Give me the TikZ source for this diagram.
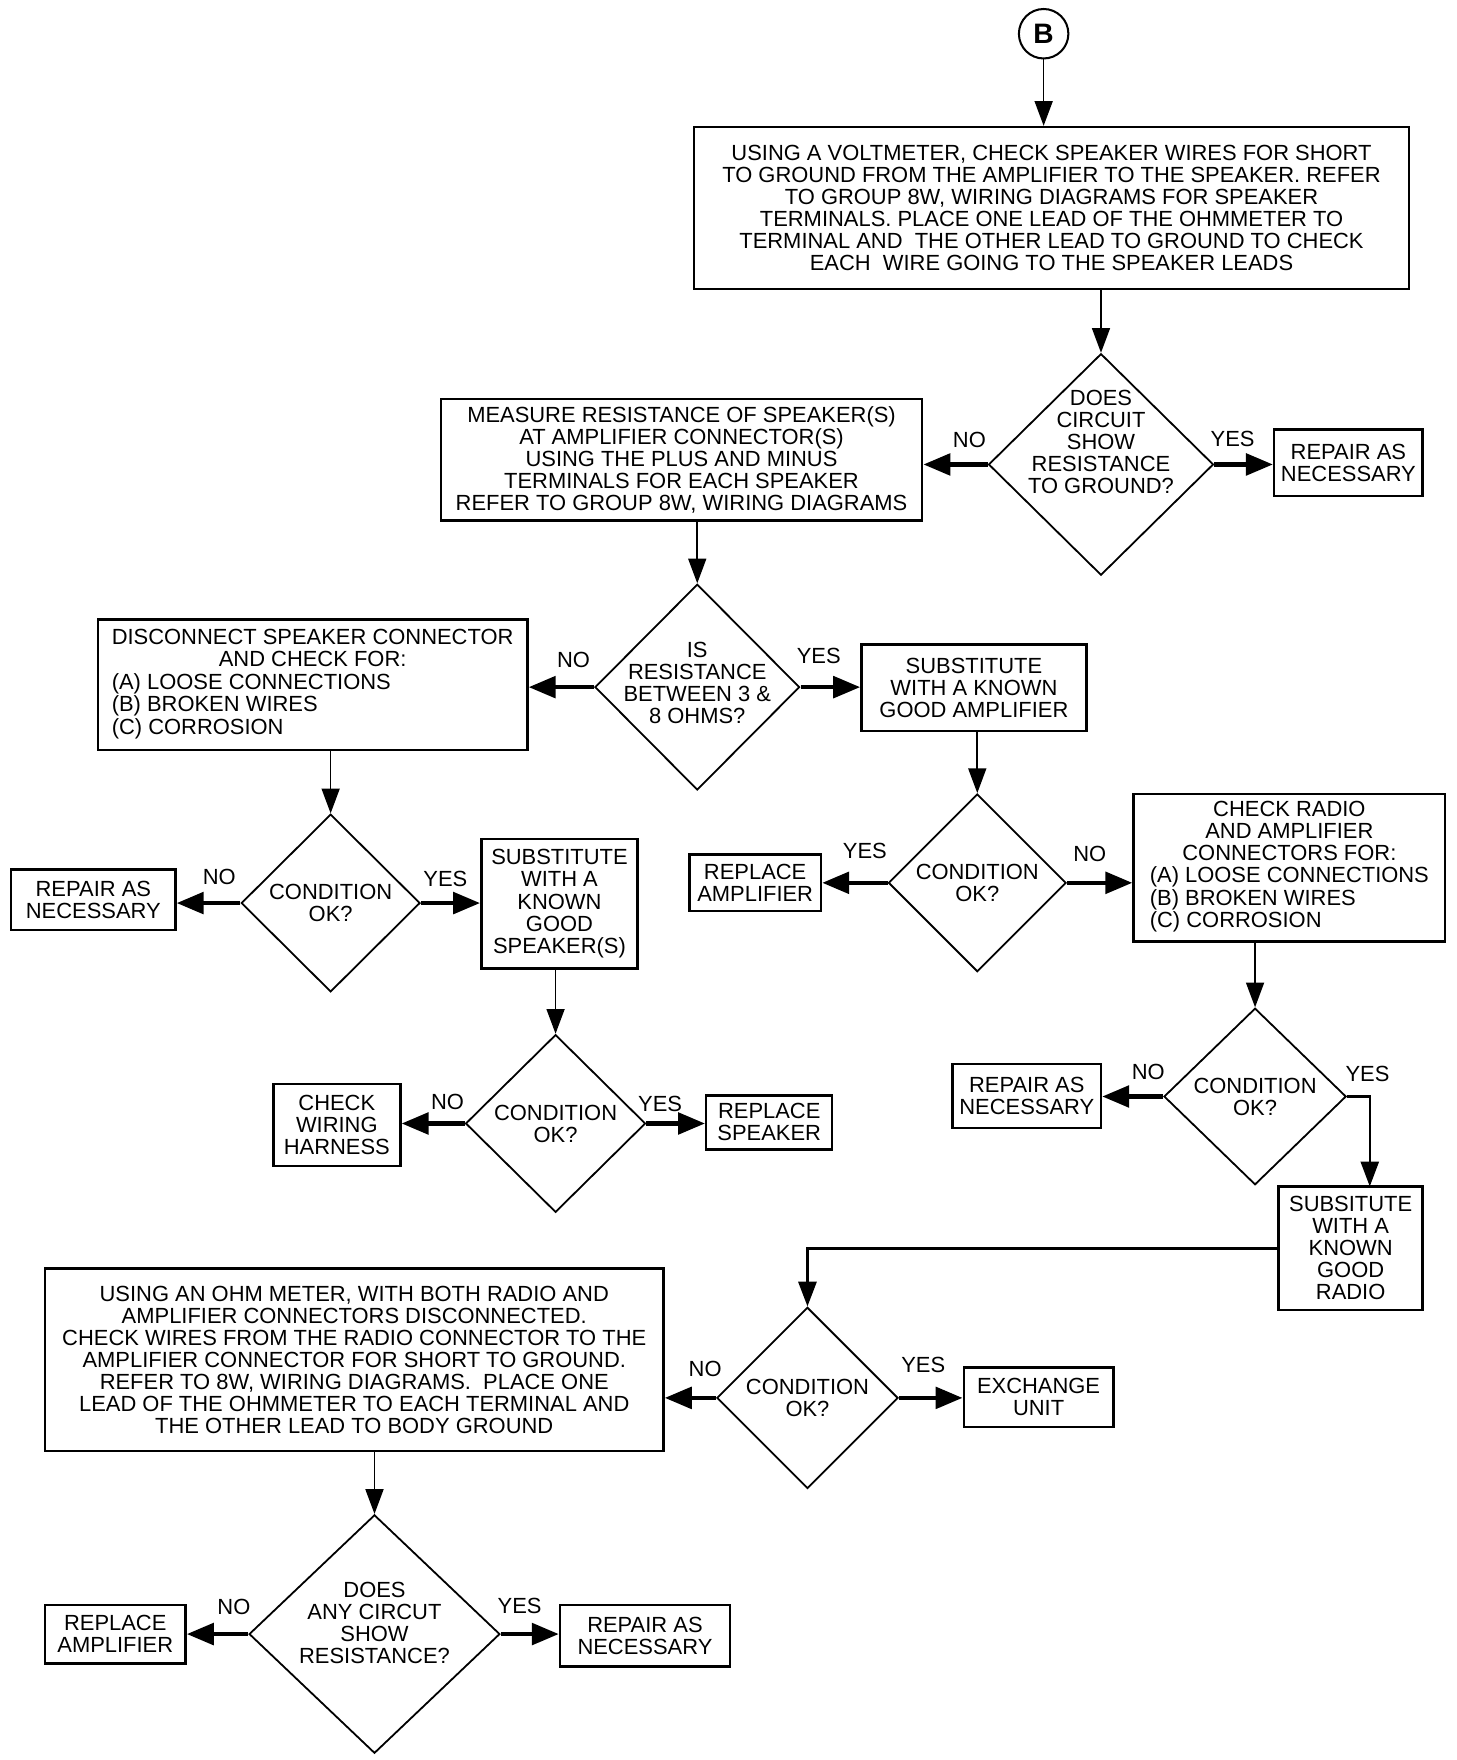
\documentclass[tikz,border=0pt]{standalone}
\usepackage{fontspec}
\setmainfont{Liberation Sans}
\usetikzlibrary{shapes.geometric,arrows.meta}

\newcommand{\chartfont}{\fontsize{19.5}{19.6}\selectfont}

\begin{document}
\begin{tikzpicture}[x=1pt, y=-1pt,
  every node/.style={font=\chartfont},
  box/.style={draw, line width=2.2pt, align=center, inner sep=2pt},
  dia/.style={draw, diamond, line width=1.6pt, inner sep=0pt},
  qtxt/.style={align=center},
  lbl/.style={inner sep=0pt},
  varr/.style={line width=1.5pt, -{Triangle[length=22pt,width=16pt]}},
  harr/.style={line width=4pt, -{Triangle[length=24pt,width=19pt]}}]
  \useasboundingbox (0,0) rectangle (1295,1565);

  \node[draw, circle, line width=1.8pt, minimum size=44pt, inner sep=0pt,
        font=\fontsize{25}{25}\selectfont\bfseries] (B) at (928,30) {B};

  \node[box, minimum width=636pt, minimum height=144pt] (volt) at (935,185)
    {USING A VOLTMETER, CHECK SPEAKER WIRES FOR SHORT\\
     TO GROUND FROM THE AMPLIFIER TO THE SPEAKER. REFER\\
     TO GROUP 8W, WIRING DIAGRAMS FOR SPEAKER\\
     TERMINALS. PLACE ONE LEAD OF THE OHMMETER TO\\
     TERMINAL AND\ \ THE OTHER LEAD TO GROUND TO CHECK\\
     EACH\ \ WIRE GOING TO THE SPEAKER LEADS};
  \node[dia, minimum width=200pt, minimum height=197pt,
        label={[qtxt, yshift=20pt]center:{DOES\\CIRCUIT\\SHOW\\RESISTANCE\\TO GROUND?}}]
        (d1) at (979,413) {};
  \node[box, minimum width=132pt, minimum height=59pt] (rep1) at (1199,411.5)
    {REPAIR AS\\NECESSARY};
  \node[box, minimum width=428pt, minimum height=108pt] (meas) at (606,409)
    {MEASURE RESISTANCE OF SPEAKER(S)\\
     AT AMPLIFIER CONNECTOR(S)\\
     USING THE PLUS AND MINUS\\
     TERMINALS FOR EACH SPEAKER\\
     REFER TO GROUP 8W, WIRING DIAGRAMS};

  \node[dia, minimum width=182pt, minimum height=183pt,
        label={[qtxt, yshift=4pt]center:{IS\\RESISTANCE\\BETWEEN 3 \&\\8 OHMS?}}]
        (d2) at (620,611) {};
  \node[box, minimum width=382pt, minimum height=116pt] (disc) at (278,609)
    {\begin{tabular}{@{}l@{}}
     \multicolumn{1}{@{}c@{}}{DISCONNECT SPEAKER CONNECTOR}\\
     \multicolumn{1}{@{}c@{}}{AND CHECK FOR:}\\
     (A) LOOSE CONNECTIONS\\
     (B) BROKEN WIRES\\
     (C) CORROSION
     \end{tabular}};
  \node[box, minimum width=200pt, minimum height=77pt] (subamp) at (866,611.5)
    {SUBSTITUTE\\WITH A KNOWN\\GOOD AMPLIFIER};

  \node[dia, minimum width=159pt, minimum height=158pt,
        label={[qtxt]center:{CONDITION\\OK?}}] (d3) at (294,803) {};
  \node[box, minimum width=146pt, minimum height=54pt] (rep2) at (83,800)
    {REPAIR AS\\NECESSARY};
  \node[box, minimum width=139pt, minimum height=115pt] (subspk) at (497.5,803.5)
    {SUBSTITUTE\\WITH A\\KNOWN\\GOOD\\SPEAKER(S)};

  \node[dia, minimum width=158pt, minimum height=158pt,
        label={[qtxt]center:{CONDITION\\OK?}}] (d4) at (869,785) {};
  \node[box, minimum width=117pt, minimum height=50pt] (repamp1) at (671.5,785)
    {REPLACE\\AMPLIFIER};
  \node[box, minimum width=277pt, minimum height=131pt] (chkradio) at (1146.5,771.5)
    {\begin{tabular}{@{}l@{}}
     \multicolumn{1}{@{}c@{}}{CHECK RADIO}\\
     \multicolumn{1}{@{}c@{}}{AND AMPLIFIER}\\
     \multicolumn{1}{@{}c@{}}{CONNECTORS FOR:}\\
     (A) LOOSE CONNECTIONS\\
     (B) BROKEN WIRES\\
     (C) CORROSION
     \end{tabular}};

  \node[dia, minimum width=160pt, minimum height=158pt,
        label={[qtxt]center:{CONDITION\\OK?}}] (d5) at (494,999) {};
  \node[box, minimum width=113pt, minimum height=73pt] (harness) at (299.5,1000.5)
    {CHECK\\WIRING\\HARNESS};
  \node[box, minimum width=112pt, minimum height=48pt] (repspk) at (684,998)
    {REPLACE\\SPEAKER};

  \node[dia, minimum width=162pt, minimum height=157pt,
        label={[qtxt]center:{CONDITION\\OK?}}] (d6) at (1116,975) {};
  \node[box, minimum width=132pt, minimum height=57pt] (rep3) at (913,974.5)
    {REPAIR AS\\NECESSARY};
  \node[box, minimum width=128pt, minimum height=110pt] (subradio) at (1201,1110)
    {SUBSITUTE\\WITH A\\KNOWN\\GOOD\\RADIO};
  \coordinate (k1) at (1218,1055);

  \node[dia, minimum width=161pt, minimum height=161pt,
        label={[qtxt]center:{CONDITION\\OK?}}] (d7) at (718,1243) {};
  \node[box, minimum width=133pt, minimum height=53pt] (exch) at (923.5,1242.5)
    {EXCHANGE\\UNIT};
  \node[box, minimum width=550pt, minimum height=162pt] (ohm) at (315,1209)
    {USING AN OHM METER, WITH BOTH RADIO AND\\
     AMPLIFIER CONNECTORS DISCONNECTED.\\
     CHECK WIRES FROM THE RADIO CONNECTOR TO THE\\
     AMPLIFIER CONNECTOR FOR SHORT TO GROUND.\\
     REFER TO 8W, WIRING DIAGRAMS.\ \ PLACE ONE\\
     LEAD OF THE OHMMETER TO EACH TERMINAL AND\\
     THE OTHER LEAD TO BODY GROUND};

  \node[dia, minimum width=223pt, minimum height=212pt,
        label={[qtxt, yshift=10pt]center:{DOES\\ANY CIRCUT\\SHOW\\RESISTANCE?}}]
        (d8) at (333,1453) {};
  \node[box, minimum width=125pt, minimum height=52pt] (repamp2) at (102.5,1453)
    {REPLACE\\AMPLIFIER};
  \node[box, minimum width=151pt, minimum height=55pt] (rep4) at (573.5,1454.5)
    {REPAIR AS\\NECESSARY};

  \node[lbl] (no1) at (862,391) {NO};
  \node[lbl] (yes1) at (1096,390) {YES};
  \node[lbl] (no2) at (510,587) {NO};
  \node[lbl] (yes2) at (728,583) {YES};
  \node[lbl] (no3) at (195,780) {NO};
  \node[lbl] (yes3) at (396,782) {YES};
  \node[lbl] (yes4) at (769,757) {YES};
  \node[lbl] (no4) at (969,759) {NO};
  \node[lbl] (no5) at (398,980) {NO};
  \node[lbl] (yes5) at (587,982) {YES};
  \node[lbl] (no6) at (1021,953) {NO};
  \node[lbl] (yes6) at (1216,955) {YES};
  \node[lbl] (no7) at (627,1217) {NO};
  \node[lbl] (yes7) at (821,1214) {YES};
  \node[lbl] (no8) at (208,1429) {NO};
  \node[lbl] (yes8) at (462,1428) {YES};

  \draw[varr] (B.south) -- (B.south |- volt.north);
  \draw[varr] (volt.south -| d1) -- (d1.north);
  \draw[harr] (d1.west) -- (d1.west -| meas.east);
  \draw[harr] (d1.east) -- (d1.east -| rep1.west);
  \draw[varr] (meas.south -| d2) -- (d2.north);
  \draw[harr] (d2.west) -- (d2.west -| disc.east);
  \draw[harr] (d2.east) -- (d2.east -| subamp.west);
  \draw[varr] (disc.south -| d3) -- (d3.north);
  \draw[harr] (d3.west) -- (d3.west -| rep2.east);
  \draw[harr] (d3.east) -- (d3.east -| subspk.west);
  \draw[varr] (subspk.south -| d5) -- (d5.north);
  \draw[harr] (d5.west) -- (d5.west -| harness.east);
  \draw[harr] (d5.east) -- (d5.east -| repspk.west);
  \draw[varr] (subamp.south -| d4) -- (d4.north);
  \draw[harr] (d4.west) -- (d4.west -| repamp1.east);
  \draw[harr] (d4.east) -- (d4.east -| chkradio.west);
  \draw[varr] (chkradio.south -| d6) -- (d6.north);
  \draw[harr] (d6.west) -- (d6.west -| rep3.east);
  \draw[varr, line width=2pt] (d6.east) -| (k1);
  \draw[varr, line width=2.6pt] (subradio.west) -| (d7.north);
  \draw[harr] (d7.west) -- (d7.west -| ohm.east);
  \draw[harr] (d7.east) -- (d7.east -| exch.west);
  \draw[varr] (ohm.south -| d8) -- (d8.north);
  \draw[harr] (d8.west) -- (d8.west -| repamp2.east);
  \draw[harr] (d8.east) -- (d8.east -| rep4.west);
\end{tikzpicture}
\end{document}
